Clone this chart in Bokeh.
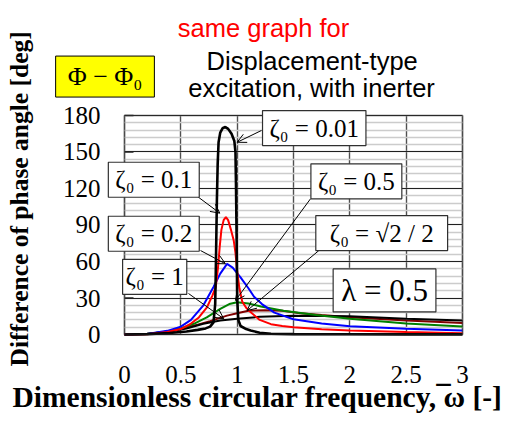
from bokeh.plotting import figure
from bokeh.models import Label, Arrow, OpenHead, FixedTicker, Range1d, BoxAnnotation, Title
from bokeh.core.properties import value
from bokeh.embed import file_html
from bokeh.resources import INLINE

# ---------------- data ----------------
x_ticks = [0, 0.5, 1, 1.5, 2, 2.5, 3]
x_tick_labels = ["0", "0.5", "1", "1.5", "2", "2.5", "3"]
y_ticks = [0, 30, 60, 90, 120, 150, 180]
y_tick_labels = ["0", "30", "60", "90", "120", "150", "180"]
y_minor = list(range(0, 181, 6))
x_lim = (0, 3)
y_lim = (0, 180)

# zeta0 = 0.01
w_001 = [0, 0.2, 0.4, 0.55, 0.65, 0.72, 0.76, 0.79, 0.805, 0.81, 0.815, 0.82, 0.827, 0.835,
         0.85, 0.87, 0.895, 0.92, 0.95, 0.975, 0.985, 0.99, 0.995, 1.0, 1.01, 1.03, 1.08,
         1.12, 1.2, 1.3, 1.5, 2.0, 2.5, 3.0]
phi_001 = [0, 0.3, 1.2, 2.5, 3.8, 5, 6.5, 10, 25, 50, 80, 110, 140, 158,
           166, 169.5, 170.5, 169, 165, 159, 150, 120, 80, 30, 12, 7, 4.5,
           3.3, 1.5, 0.6, 0.3, 0.2, 0.1, 0.1]
# zeta0 = 0.1
w_01 = [0, 0.2, 0.38, 0.5, 0.59, 0.66, 0.73, 0.78, 0.81, 0.83, 0.845, 0.86, 0.88, 0.9,
        0.92, 0.945, 0.97, 0.985, 1.0, 1.02, 1.045, 1.08, 1.1, 1.2, 1.3, 1.4, 1.5, 1.75,
        2.0, 2.5, 3.0]
phi_01 = [0, 0.3, 2, 4.5, 9, 14, 22, 32, 39, 55, 72, 86, 94, 96.5,
          94, 86, 77, 67, 52, 38, 27, 22, 20, 12, 8.5, 7, 6, 4.3,
          3.3, 2, 1.1]
# zeta0 = 0.2
w_02 = [0, 0.2, 0.38, 0.5, 0.59, 0.7, 0.79, 0.85, 0.91, 0.96, 1.03, 1.1, 1.15, 1.22,
        1.33, 1.5, 1.75, 2.0, 2.5, 3.0]
phi_02 = [0, 0.4, 3, 6.5, 12, 24, 39, 50, 58, 55, 47, 38, 31, 25,
          18, 12.5, 9, 6.8, 4.8, 3.3]
# zeta0 = 0.5
w_05 = [0, 0.2, 0.38, 0.5, 0.62, 0.73, 0.85, 0.93, 1.0, 1.1, 1.21, 1.41, 1.7, 2.0, 2.5, 3.0]
phi_05 = [0, 0.5, 2.5, 5, 9, 14, 21, 25, 26.5, 25.5, 23, 19.5, 16, 13, 9, 6.6]
# zeta0 = sqrt(2)/2
w_07 = [0, 0.2, 0.38, 0.5, 0.65, 0.76, 0.91, 1.0, 1.1, 1.25, 1.4, 1.56, 1.75, 2.0, 2.5, 3.0]
phi_07 = [0, 0.5, 2.5, 5, 8, 11, 15.5, 17.5, 19.5, 20, 19.5, 17.5, 16, 14.2, 11.5, 9.5]
# zeta0 = 1
w_1 = [0, 0.2, 0.4, 0.55, 0.7, 0.85, 1.0, 1.2, 1.5, 2.0, 2.5, 3.0]
phi_1 = [0, 0.5, 2.5, 5, 8.8, 11.5, 13, 14.5, 15.5, 15, 13, 11.5]

SERIF = "Liberation Serif"
SANS = "Liberation Sans"

# The frame is widened so that the call-out boxes, headings and y tick labels
# (annotations/texts) are not clipped; the data area itself is 0..3 x 0..180.
p = figure(width=508, height=422, output_backend="svg", toolbar_location=None,
           x_range=Range1d(-0.7988, 3.1598), y_range=Range1d(-8.219, 274.52),
           y_axis_location=None,
           min_border_left=34, min_border_right=28, min_border_top=0, min_border_bottom=78)
p.background_fill_color = "white"
p.border_fill_color = "white"
p.outline_line_color = None

# x axis (native)
p.xaxis.bounds = x_lim
p.xaxis.ticker = FixedTicker(ticks=x_ticks)
p.xaxis.major_label_overrides = {t: l for t, l in zip(x_ticks, x_tick_labels)}
p.xaxis.axis_line_color = None
p.xaxis.major_tick_line_color = None
p.xaxis.major_tick_in = 0
p.xaxis.major_tick_out = 0
p.xaxis.minor_tick_line_color = None
p.xaxis.minor_tick_in = 0
p.xaxis.minor_tick_out = 0
p.xaxis.major_label_text_font = SERIF
p.xaxis.major_label_text_font_size = "25px"
p.xaxis.major_label_text_color = "black"
p.xaxis.major_label_standoff = 21
p.xaxis.axis_label = "Dimensionless circular frequency, \u0305ω [-]"
p.xaxis.axis_label_text_font = SERIF
p.xaxis.axis_label_text_font_size = "29.5px"
p.xaxis.axis_label_text_font_style = "bold"
p.xaxis.axis_label_text_color = "black"
p.xaxis.axis_label_standoff = -5

# y axis title in the left panel
p.add_layout(Title(text="Difference of phase angle [deg]", text_font=SERIF,
                   text_font_size="25.5px", text_font_style="bold", text_color="black",
                   align="left", vertical_align="middle", offset=-22, standoff=0),
             "left")

# grids restricted to the data area
p.xgrid.cross_bounds = y_lim
p.xgrid.grid_line_color = "#505050"
p.xgrid.grid_line_width = 1.4
p.ygrid.ticker = FixedTicker(ticks=y_ticks, minor_ticks=y_minor)
p.ygrid.bounds = y_lim
p.ygrid.cross_bounds = x_lim
p.ygrid.grid_line_color = "#202020"
p.ygrid.grid_line_width = 1
p.ygrid.minor_grid_line_color = "#cccccc"
p.ygrid.minor_grid_line_width = 1.6

# y tick labels and inward ticks
p.text(x=[x_lim[0]] * len(y_ticks), y=y_ticks, text=y_tick_labels, x_offset=-24,
       text_align="right", text_baseline="middle", text_font=value(SERIF),
       text_font_size="25px", text_color="black")
p.ray(x=[x_lim[0]] * len(y_ticks), y=y_ticks, length=9, length_units="screen", angle=0,
      line_color="#202020", line_width=1.5)

p.line(w_07, phi_07, color="#800000", line_width=2)
p.line(w_1, phi_1, color="black", line_width=2)
p.line(w_05, phi_05, color="#008000", line_width=2)
p.line(w_02, phi_02, color="#0000ff", line_width=2)
p.line(w_01, phi_01, color="#ff0000", line_width=2)
p.line(w_001, phi_001, color="black", line_width=2.6)

# border of the data area
p.add_layout(BoxAnnotation(left=x_lim[0], right=x_lim[1], bottom=y_lim[0], top=y_lim[1],
                           fill_alpha=0, line_color="#404040", line_width=2))

# arrows (start -> end)
arrows = [
    (1.216, 167.7, 1.0, 158),
    (0.648, 113.4, 0.846, 99.7),
    (0.675, 69, 0.896, 58.1),
    (0.568, 33.7, 0.881, 12.9),
    (1.651, 111.5, 0.985, 28),
    (1.725, 69, 1.089, 19.7),
]
for xs, ys, xe, ye in arrows:
    p.add_layout(Arrow(end=OpenHead(size=9, line_width=1, line_color="black"),
                       x_start=xs, y_start=ys, x_end=xe, y_end=ye,
                       line_width=1, line_color="black"))

BOX = dict(text_font=SERIF, text_align="center", text_baseline="middle",
           text_color="black", background_fill_color="white",
           border_line_color="#303030", border_line_width=1.2)

callouts = [
    ("ζ₀ = 0.01", 1.684, 169.7, "25px", 7),
    ("ζ₀ = 0.1", 0.260, 127.2, "25px", 7),
    ("ζ₀ = 0.2", 0.260, 82.8, "25px", 7),
    ("ζ₀ = 1", 0.268, 47.4, "25px", 3),
    ("ζ₀ = 0.5", 2.058, 125.9, "25px", 7),
    ("ζ₀ = √2 / 2", 2.283, 83.4, "25px", 14),
    ("λ = 0.5", 2.308, 36.2, "31px", 8),
]
for txt, x, y, fs, padx in callouts:
    p.add_layout(Label(x=x, y=y, text=txt, text_font_size=fs,
                       padding=dict(left=padx, right=padx, top=4, bottom=4), **BOX))

# yellow box
p.add_layout(Label(x=-0.173, y=212, text="Φ − Φ₀", text_font=SERIF, text_font_size="26px",
                   text_align="center", text_baseline="middle", text_color="black",
                   background_fill_color="#ffff00", border_line_color="black",
                   border_line_width=1, padding=dict(left=12, right=12, top=6, bottom=6)))

# headings
heads = [
    ("same graph for", 1.234, 252.3, "#ff0000"),
    ("Displacement-type", 1.666, 225.2, "black"),
    ("excitation, with inerter", 1.66, 203, "black"),
]
for txt, x, y, c in heads:
    p.add_layout(Label(x=x, y=y, text=txt, text_font=SANS, text_font_size="25.5px",
                       text_align="center", text_baseline="alphabetic", text_color=c))

open("out.html", "w").write(file_html(p, INLINE))
